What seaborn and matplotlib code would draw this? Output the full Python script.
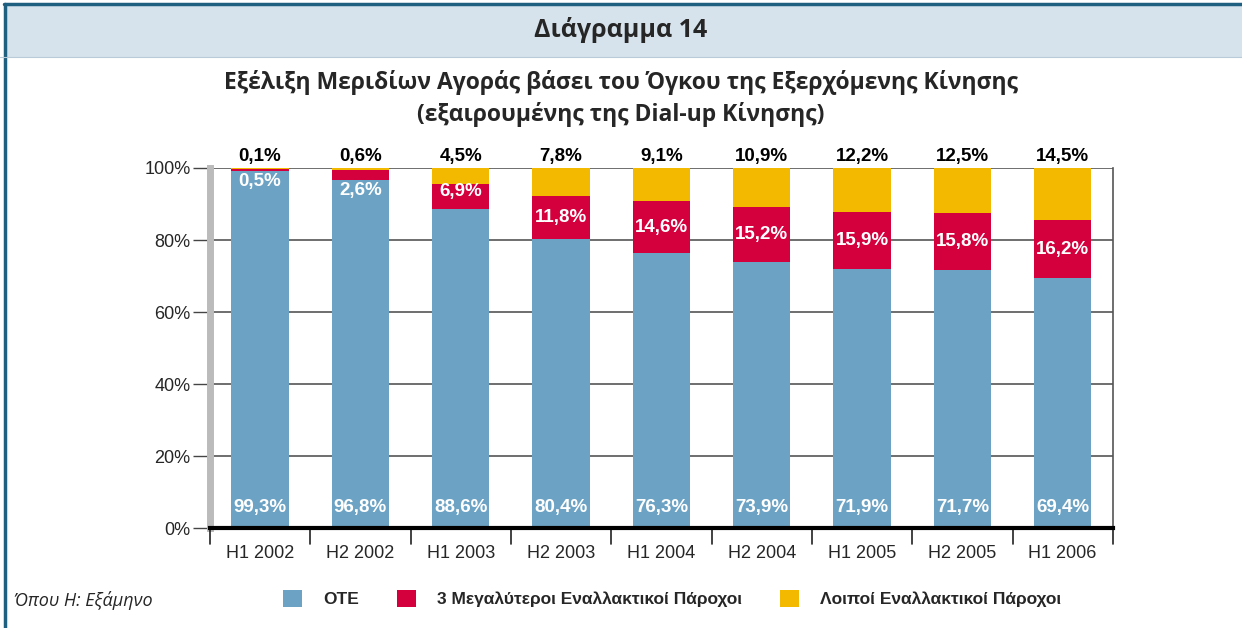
import pandas as pd
import seaborn as sns
import matplotlib.pyplot as plt
from matplotlib.patches import Rectangle, Patch

periods = ['H1 2002', 'H2 2002', 'H1 2003', 'H2 2003', 'H1 2004',
           'H2 2004', 'H1 2005', 'H2 2005', 'H1 2006']
ote = [99.3, 96.8, 88.6, 80.4, 76.3, 73.9, 71.9, 71.7, 69.4]
big3 = [0.5, 2.6, 6.9, 11.8, 14.6, 15.2, 15.9, 15.8, 16.2]
others = [0.1, 0.6, 4.5, 7.8, 9.1, 10.9, 12.2, 12.5, 14.5]

series_names = ['ΟΤΕ', '3 Μεγαλύτεροι Εναλλακτικοί Πάροχοι', 'Λοιποί Εναλλακτικοί Πάροχοι']
colors = ['#6ca3c4', '#d3003d', '#f2b900']

df = pd.DataFrame({'Period': periods, 'OTE': ote, 'Big3': big3, 'Others': others})
df['c1'] = df['OTE']
df['c2'] = df['OTE'] + df['Big3']
df['c3'] = (df['c2'] + df['Others']).clip(upper=100)

sns.set_style('white')
plt.rcParams['font.family'] = ['Liberation Sans', 'DejaVu Sans']
narrow = ['Liberation Sans Narrow', 'Liberation Sans', 'DejaVu Sans']
title_font = ['Open Sans', 'DejaVu Sans']

fig = plt.figure(figsize=(12.42, 6.28), dpi=100)

# header band and frame
fig.patches.append(Rectangle((0.003, 0.909), 0.997, 0.085, transform=fig.transFigure,
                             facecolor='#d7e3ec', edgecolor='none', zorder=0))
fig.add_artist(plt.Line2D([0.003, 1.0], [0.994, 0.994], color='#1f5f80', lw=2.5))
fig.add_artist(plt.Line2D([0.004, 0.004], [0.0, 0.994], color='#1f5f80', lw=2.5))
fig.add_artist(plt.Line2D([0.0, 1.0], [0.909, 0.909], color='#b9cbd8', lw=0.8))

fig.text(0.5, 0.953, 'Διάγραμμα 14', ha='center', va='center',
         fontsize=18, fontweight='bold', family=title_font)
fig.text(0.5, 0.868, 'Εξέλιξη Μεριδίων Αγοράς βάσει του Όγκου της Εξερχόμενης Κίνησης',
         ha='center', va='center', fontsize=16.5, fontweight='bold', family=title_font)
fig.text(0.5, 0.818, '(εξαιρουμένης της Dial-up Κίνησης)',
         ha='center', va='center', fontsize=16.5, fontweight='bold', family=title_font)

ax = fig.add_axes([0.169, 0.159, 0.727, 0.5735])

for col, c in zip(['c3', 'c2', 'c1'], colors[::-1]):
    sns.barplot(data=df, x='Period', y=col, color=c, width=0.57,
                saturation=1, linewidth=0, edgecolor='none', ax=ax, zorder=3)

ax.set_ylim(0, 100)
ax.set_xlim(-0.5, len(periods) - 0.5)
ax.set_yticks([0, 20, 40, 60, 80, 100])
ax.set_yticklabels(['0%', '20%', '40%', '60%', '80%', '100%'], fontsize=13)
ax.set_xlabel('')
ax.set_ylabel('')
ax.set_xticks(range(len(periods)))
ax.set_xticklabels(periods, fontsize=13)
ax.tick_params(axis='x', length=0, pad=12)
ax.tick_params(axis='y', length=12, width=1, color='#444444', pad=2, left=True)
for x in [i + 0.5 for i in range(-1, len(periods))]:
    ax.plot([x, x], [0, -4.5], color='#222222', lw=1.2, clip_on=False, zorder=5)

ax.grid(axis='y', color='#555555', lw=1.2, zorder=1)
ax.spines['left'].set_color('#bbbbbb')
ax.spines['left'].set_linewidth(5)
ax.spines['bottom'].set_color('black')
ax.spines['bottom'].set_linewidth(3)
ax.spines['bottom'].set_zorder(6)
ax.spines['right'].set_color('#555555')
ax.spines['right'].set_linewidth(1.2)
ax.spines['top'].set_visible(False)

lab_kw = dict(ha='center', fontsize=13.5, fontweight='bold', family=narrow, zorder=7)
fmt = lambda v: f'{v:.1f}%'.replace('.', ',')
for i in range(len(periods)):
    ax.text(i, 3.5, fmt(ote[i]), va='bottom', color='white', **lab_kw)
    if big3[i] < 4:
        ax.text(i, ote[i] - 0.8, fmt(big3[i]), va='top', color='white', **lab_kw)
    else:
        mid = (df['c1'][i] + df['c2'][i]) / 2
        ax.text(i, max(mid, df['c1'][i] + 5), fmt(big3[i]), va='center',
                color='white', **lab_kw)
    ax.text(i, 100.8, fmt(others[i]), va='bottom', color='black', **lab_kw)

handles = [Patch(facecolor=c, edgecolor='none') for c in colors]
fig.legend(handles, series_names, loc='center', bbox_to_anchor=(0.541, 0.047),
           ncol=3, frameon=False, handlelength=1.1, handleheight=1.1,
           columnspacing=2.2, handletextpad=1.2,
           prop={'family': narrow, 'weight': 'bold', 'size': 12.5})

fig.text(0.011, 0.043, 'Όπου Η: Εξάμηνο', ha='left', va='center', fontsize=13,
         style='italic', family=title_font)

fig.savefig('out.png', dpi=100)
